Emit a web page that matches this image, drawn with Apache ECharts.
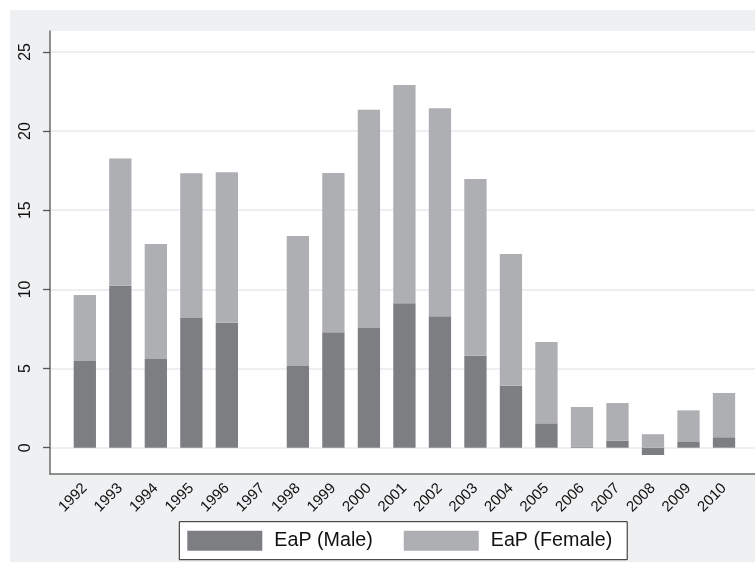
<!DOCTYPE html>
<html><head><meta charset="utf-8">
<script src="https://cdn.jsdelivr.net/npm/echarts@6/dist/echarts.min.js"></script>
<style>
html,body{margin:0;padding:0;background:#fff}
#bg{position:absolute;left:10px;top:10px;width:745px;height:552px;background:#eff0f2}
#c{position:absolute;left:0;top:0;width:755px;height:562px}
</style>
</head><body><div id="bg"></div><div id="c"></div>
<script>
const years = ['1992','1993','1994','1995','1996','1997','1998','1999','2000','2001','2002','2003','2004','2005','2006','2007','2008','2009','2010'];
const male = [5.48,10.23,5.60,8.19,7.90,null,5.16,7.29,7.56,9.12,8.30,5.81,3.92,1.54,0.05,0.44,-0.46,0.36,0.66];
const female = [4.17,8.03,7.27,9.14,9.50,null,8.21,10.06,13.79,13.79,13.14,11.16,8.32,5.14,2.52,2.38,0.85,2.00,2.79];
const yTicks = [0,5,10,15,20,25];
const seriesNames = ['EaP (Male)','EaP (Female)'];

const Y_MIN = -1.661, Y_MAX = 26.32;
const FONT = 'Liberation Sans, Arial, Helvetica, sans-serif';
const chart = echarts.init(document.getElementById('c'), null, {renderer:'canvas'});
chart.setOption({
  backgroundColor: 'transparent',
  animation: false,
  textStyle: {fontFamily: FONT},
  grid: [
    {left: 50, right: 0, top: 31, bottom: 88, show: true, backgroundColor: '#ffffff', borderWidth: 0},
    {left: 67.07, right: 13.24, top: 31, bottom: 88, show: false}
  ],
  xAxis: [
    {gridIndex: 0, type: 'value', min: 0, max: 1, position: 'bottom',
     axisLine: {show: true, onZero: false, lineStyle: {color: '#6b6b6b', width: 1.5}},
     axisTick: {show: false}, axisLabel: {show: false}, splitLine: {show: false}},
    {gridIndex: 1, type: 'category', data: years, position: 'bottom',
     axisLine: {show: false, onZero: false},
     axisTick: {show: false},
     axisLabel: {rotate: 45, margin: 12, fontSize: 15, color: '#111', fontFamily: FONT, interval: 0},
     splitLine: {show: false}}
  ],
  yAxis: [
    {gridIndex: 0, type: 'value', min: Y_MIN, max: Y_MAX, position: 'left',
     axisLine: {show: true, onZero: false, lineStyle: {color: '#6b6b6b', width: 1.5}},
     axisTick: {show: true, inside: false, length: 7, customValues: yTicks, lineStyle: {color: '#555', width: 1.3}},
     axisLabel: {customValues: yTicks, rotate: 90, margin: 16, fontSize: 16, color: '#111', fontFamily: FONT},
     splitLine: {show: true, lineStyle: {color: '#e9eaec', width: 1.5}}},
    {gridIndex: 1, type: 'value', min: Y_MIN, max: Y_MAX, position: 'left',
     axisLine: {show: false, onZero: false}, axisTick: {show: false}, axisLabel: {show: false}, splitLine: {show: false}}
  ],
  legend: {
    data: seriesNames,
    left: 179.3, top: 521.7,
    orient: 'horizontal',
    icon: 'rect',
    itemWidth: 75, itemHeight: 20, itemGap: 31,
    padding: [9, 15, 9, 8],
    backgroundColor: '#ffffff', borderColor: '#222', borderWidth: 1,
    textStyle: {fontSize: 19.7, color: '#111', fontFamily: FONT, padding: [0, 0, 0, 7]}
  },
  series: [
    {name: seriesNames[0], type: 'bar', stack: 'total', xAxisIndex: 1, yAxisIndex: 1,
     data: male, barWidth: 22.3, itemStyle: {color: '#7d7e82'}},
    {name: seriesNames[1], type: 'bar', stack: 'total', xAxisIndex: 1, yAxisIndex: 1,
     data: female, barWidth: 22.3, itemStyle: {color: '#aeafb3'}}
  ]
});
</script>
</body></html>
